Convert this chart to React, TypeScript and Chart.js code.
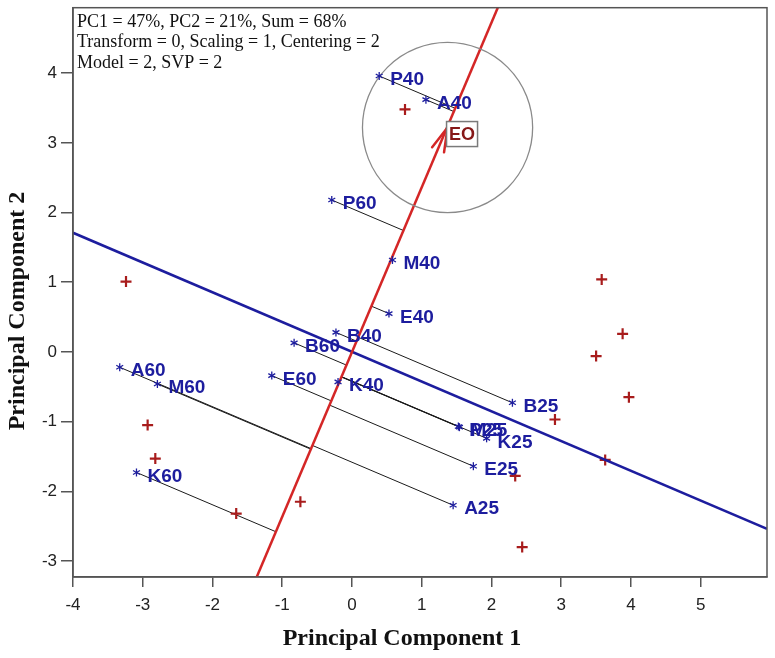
import { useEffect, useRef } from 'react';
import { Chart, registerables } from 'chart.js';

Chart.register(...registerables);

// Axis extents and tick values
const xRange = [-4, 5.95];
const yRange = [-3.23, 4.94];
const xTickValues = [-4, -3, -2, -1, 0, 1, 2, 3, 4, 5];
const yTickValues = [-3, -2, -1, 0, 1, 2, 3, 4];

// Sample scores (red crosses)
const scoreX = [0.76, -3.24, 3.58, 3.88, 3.5, 3.97, 2.91, 3.63, 2.34, 2.44, -2.93, -2.82, -1.66, -0.74];
const scoreY = [3.48, 1.01, 1.04, 0.26, -0.06, -0.65, -0.97, -1.55, -1.78, -2.8, -1.05, -1.53, -2.32, -2.15];

// Variable loadings (blue asterisks)
const loadingNames = ['P40', 'A40', 'P60', 'M40', 'E40', 'B40', 'B60', 'E60', 'K40', 'B25', 'P25', 'M25', 'K25', 'E25', 'A25', 'A60', 'M60', 'K60'];
const loadingX = [0.39, 1.06, -0.29, 0.58, 0.53, -0.23, -0.83, -1.15, -0.2, 2.3, 1.525, 1.54, 1.93, 1.74, 1.45, -3.33, -2.79, -3.09];
const loadingY = [3.96, 3.62, 2.18, 1.32, 0.55, 0.28, 0.13, -0.34, -0.43, -0.73, -1.07, -1.08, -1.24, -1.64, -2.2, -0.22, -0.46, -1.73];

// Target variable EO: loading vector and its neighbourhood radius
const targetName = 'EO';
const targetVector = [1.37, 3.22];
const targetRadius = 1.22;

// Target projection axis (red) and its orthogonal line (blue)
const targetAxisX = [-1.366, 2.09];
const targetAxisY = [-3.23, 4.94];
const orthoLineX = [-4, 5.95];
const orthoLineY = [1.71, -2.54];

const infoLines = [
  'PC1 = 47%, PC2 = 21%, Sum = 68%',
  'Transform = 0, Scaling = 1, Centering = 2',
  'Model = 2, SVP = 2',
];
const xTitle = 'Principal Component 1';
const yTitle = 'Principal Component 2';

const BLUE = '#1d1d9e';
const RED = '#d42626';
const DARK_RED = '#a81c1c';
const AXIS_GREY = '#555555';

// Foot of the perpendicular from a loading onto the target axis
function projectOnTarget(px: number, py: number) {
  const len = Math.hypot(targetVector[0], targetVector[1]);
  const ux = targetVector[0] / len;
  const uy = targetVector[1] / len;
  const d = px * ux + py * uy;
  return { x: d * ux, y: d * uy };
}

const biplotPlugin = {
  id: 'biplotMarks',
  afterDatasetsDraw(chart: any) {
    const { ctx, chartArea } = chart;
    const xs = chart.scales.x;
    const ys = chart.scales.y;
    ctx.save();

    // plot frame (top and right sides completing the axes)
    ctx.strokeStyle = AXIS_GREY;
    ctx.lineWidth = 1.5;
    ctx.strokeRect(chartArea.left, chartArea.top, chartArea.right - chartArea.left, chartArea.bottom - chartArea.top);

    // neighbourhood circle around the target
    const ex = xs.getPixelForValue(targetVector[0]);
    const ey = ys.getPixelForValue(targetVector[1]);
    const r = xs.getPixelForValue(targetVector[0] + targetRadius) - ex;
    ctx.beginPath();
    ctx.arc(ex, ey, r, 0, Math.PI * 2);
    ctx.strokeStyle = '#8a8a8a';
    ctx.lineWidth = 1.3;
    ctx.stroke();

    // arrow head on the target axis
    const ox = xs.getPixelForValue(0);
    const oy = ys.getPixelForValue(0);
    const dl = Math.hypot(ex - ox, ey - oy);
    const bx = (ox - ex) / dl;
    const by = (oy - ey) / dl;
    const armLen = 25;
    const ang = (15 * Math.PI) / 180;
    ctx.strokeStyle = RED;
    ctx.lineWidth = 2.5;
    ctx.lineCap = 'round';
    for (const s of [-1, 1]) {
      const c = Math.cos(s * ang);
      const sn = Math.sin(s * ang);
      const ax = bx * c - by * sn;
      const ay = bx * sn + by * c;
      ctx.beginPath();
      ctx.moveTo(ex, ey);
      ctx.lineTo(ex + ax * armLen, ey + ay * armLen);
      ctx.stroke();
    }

    // target label in a box
    ctx.fillStyle = '#ffffff';
    ctx.fillRect(ex - 1, ey - 6, 31, 25);
    ctx.strokeStyle = '#7a7a7a';
    ctx.lineWidth = 1.5;
    ctx.strokeRect(ex - 1, ey - 6, 31, 25);
    ctx.fillStyle = '#861818';
    ctx.font = 'bold 18px "Liberation Sans", Arial, sans-serif';
    ctx.textAlign = 'center';
    ctx.textBaseline = 'middle';
    ctx.fillText(targetName, ex + 14.5, ey + 7);

    // loading asterisks and names
    ctx.textAlign = 'left';
    ctx.lineCap = 'butt';
    for (let i = 0; i < loadingNames.length; i++) {
      const px = xs.getPixelForValue(loadingX[i]);
      const py = ys.getPixelForValue(loadingY[i]);
      ctx.strokeStyle = BLUE;
      ctx.lineWidth = 1.3;
      for (let k = 0; k < 3; k++) {
        const a = Math.PI / 2 + (k * Math.PI) / 3;
        ctx.beginPath();
        ctx.moveTo(px - Math.cos(a) * 4, py - Math.sin(a) * 4);
        ctx.lineTo(px + Math.cos(a) * 4, py + Math.sin(a) * 4);
        ctx.stroke();
      }
      ctx.fillStyle = BLUE;
      ctx.font = 'bold 19px "Liberation Sans", Arial, sans-serif';
      ctx.fillText(loadingNames[i], px + 11, py + 4);
    }
    ctx.restore();
  },
  afterDraw(chart: any) {
    const { ctx, chartArea } = chart;
    ctx.save();
    ctx.fillStyle = '#111111';
    ctx.font = '18px "Liberation Serif", "Times New Roman", serif';
    ctx.textAlign = 'left';
    ctx.textBaseline = 'alphabetic';
    infoLines.forEach((t, i) => ctx.fillText(t, chartArea.left + 4, chartArea.top + 19 + i * 20.5));

    ctx.font = 'bold 24px "Liberation Serif", "Times New Roman", serif';
    ctx.textAlign = 'center';
    ctx.textBaseline = 'middle';
    ctx.fillText(xTitle, 402, 639);
    ctx.translate(18, 311);
    ctx.rotate(-Math.PI / 2);
    ctx.fillText(yTitle, 0, 0);
    ctx.restore();
  },
};

export default function App() {
  const canvasRef = useRef<HTMLCanvasElement | null>(null);

  useEffect(() => {
    const canvas = canvasRef.current;
    if (!canvas) return;

    const segments = loadingNames.map((name, i) => {
      const foot = projectOnTarget(loadingX[i], loadingY[i]);
      return {
        label: name + ' projection',
        data: [
          { x: loadingX[i], y: loadingY[i] },
          { x: foot.x, y: foot.y },
        ],
        showLine: true,
        borderColor: '#1a1a1a',
        borderWidth: 1,
        pointRadius: 0,
        order: 6,
      };
    });

    const tickFont = { family: '"Liberation Sans", Arial, sans-serif', size: 17 };

    const chart = new Chart(canvas, {
      type: 'scatter',
      data: {
        datasets: [
          ...segments,
          {
            label: 'scores',
            data: scoreX.map((x, i) => ({ x, y: scoreY[i] })),
            pointStyle: 'cross',
            pointRadius: 5.5,
            borderWidth: 2.2,
            borderColor: DARK_RED,
            backgroundColor: DARK_RED,
            order: 5,
          },
          {
            label: 'orthogonal',
            data: orthoLineX.map((x, i) => ({ x, y: orthoLineY[i] })),
            showLine: true,
            borderColor: BLUE,
            borderWidth: 2.5,
            pointRadius: 0,
            order: 4,
          },
          {
            label: 'target axis',
            data: targetAxisX.map((x, i) => ({ x, y: targetAxisY[i] })),
            showLine: true,
            borderColor: RED,
            borderWidth: 2.5,
            pointRadius: 0,
            order: 3,
          },
          {
            label: 'loadings',
            data: loadingX.map((x, i) => ({ x, y: loadingY[i] })),
            pointRadius: 0,
            order: 1,
          },
        ] as any,
      },
      options: {
        animation: false,
        responsive: false,
        devicePixelRatio: 1,
        layout: { padding: { top: 6, right: 8, left: 0, bottom: 0 } },
        plugins: { legend: { display: false }, tooltip: { enabled: false } },
        scales: {
          x: {
            type: 'linear',
            min: xRange[0],
            max: xRange[1],
            afterBuildTicks: (s: any) => {
              s.ticks = xTickValues.map((v) => ({ value: v }));
            },
            afterFit: (s: any) => {
              s.height = 81;
              s.paddingLeft = 0;
              s.paddingRight = 0;
            },
            ticks: { font: tickFont, color: '#222222', padding: 8, autoSkip: false, maxRotation: 0 },
            grid: { display: true, drawOnChartArea: false, drawTicks: true, tickLength: 10, color: AXIS_GREY, lineWidth: 1.5 },
            border: { display: true, color: AXIS_GREY, width: 1.5 },
          },
          y: {
            type: 'linear',
            min: yRange[0],
            max: yRange[1],
            afterBuildTicks: (s: any) => {
              s.ticks = yTickValues.map((v) => ({ value: v }));
            },
            afterFit: (s: any) => {
              s.width = 73;
              s.paddingTop = 0;
              s.paddingBottom = 0;
            },
            ticks: { font: tickFont, color: '#222222', padding: 4, autoSkip: false },
            grid: { display: true, drawOnChartArea: false, drawTicks: true, tickLength: 12, color: AXIS_GREY, lineWidth: 1.5 },
            border: { display: true, color: AXIS_GREY, width: 1.5 },
          },
        },
      } as any,
      plugins: [biplotPlugin],
    });

    return () => chart.destroy();
  }, []);

  return (
    <div style={{ position: 'fixed', left: 0, top: 0, width: 775, height: 658, background: '#ffffff' }}>
      <canvas ref={canvasRef} width={775} height={658} style={{ width: 775, height: 658, display: 'block' }} />
    </div>
  );
}
